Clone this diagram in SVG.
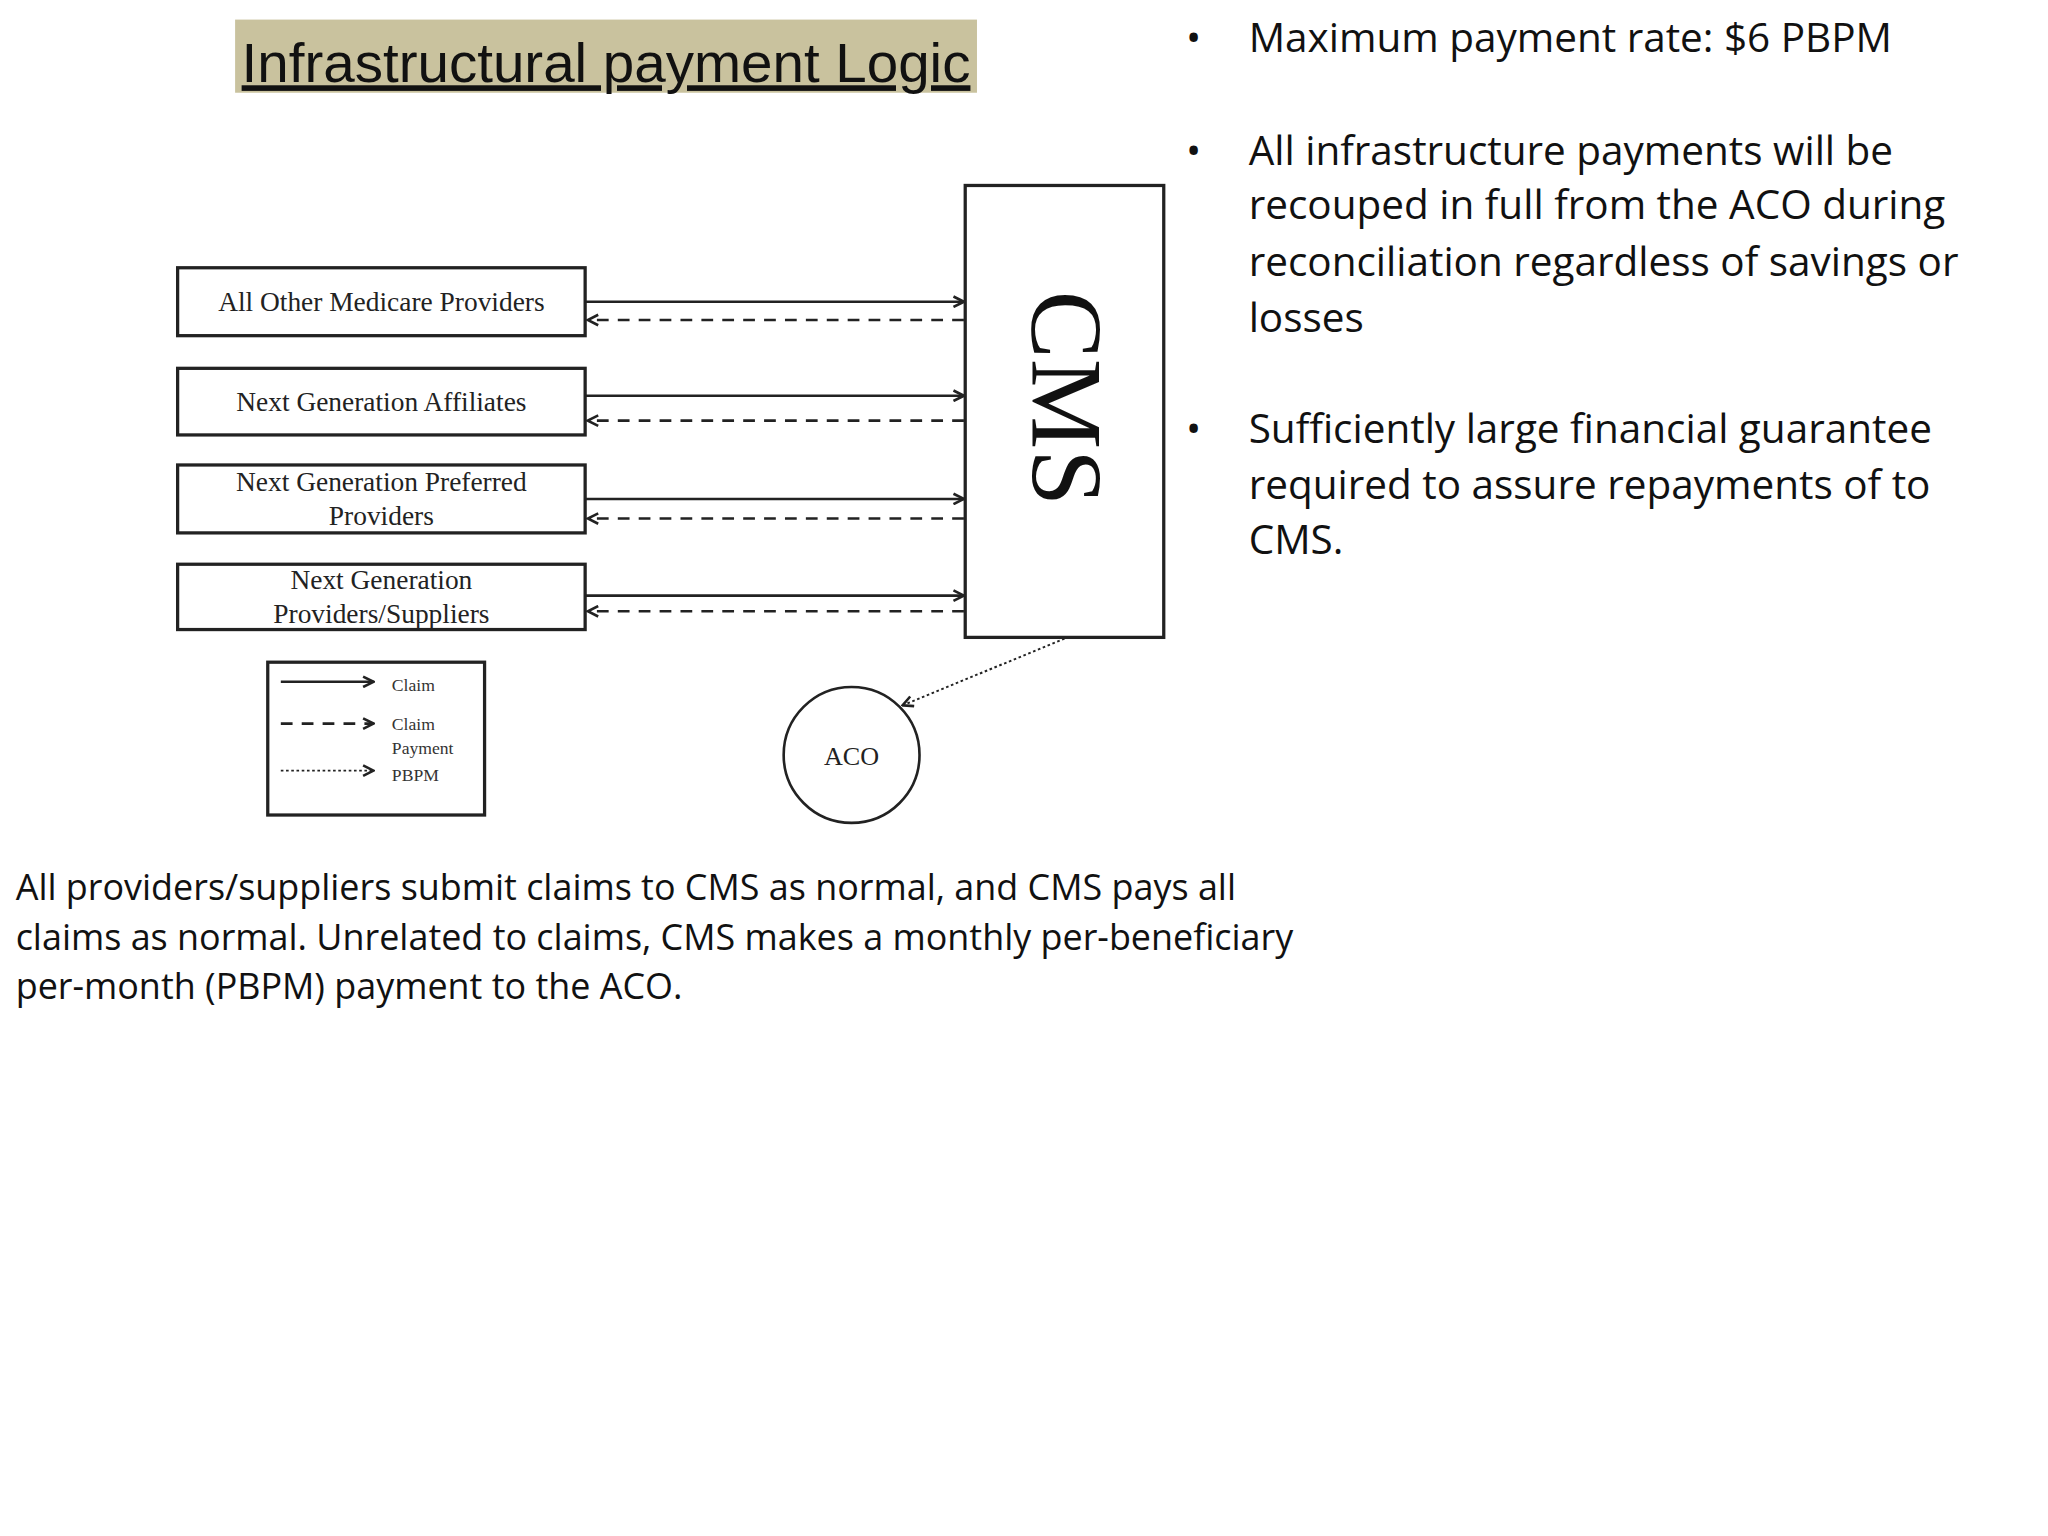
<svg xmlns="http://www.w3.org/2000/svg" width="2048" height="1536" viewBox="0 0 2048 1536">
<style>
.box{fill:#fff;stroke:#222;stroke-width:2.5}
.st{font-family:"Liberation Serif",serif;font-size:21px;fill:#222;text-anchor:middle}
.sl{stroke:#222;stroke-width:2;fill:none}
.ds{stroke-dasharray:9,7}
.dt{stroke-dasharray:2,2;stroke-width:1.5}
.lg{font-family:"Liberation Serif",serif;font-size:13.5px;fill:#333}
.bl{font-family:"Open Sans",sans-serif;font-size:31px;fill:#111}
.bt{font-family:"Open Sans",sans-serif;font-size:27.5px;fill:#111}
</style>
<defs>
<marker id="ah" viewBox="0 0 10 10" refX="9" refY="5" markerWidth="10" markerHeight="10" orient="auto-start-reverse" markerUnits="userSpaceOnUse"><path d="M1,1 L9,5 L1,9" fill="none" stroke="#222" stroke-width="2"/></marker>
</defs>
<rect width="2048" height="1536" fill="#fff"/>
<g transform="scale(1.30612)">
<g id="title"><rect x="180" y="15" width="568" height="56" fill="#c9c29e"/>
<text x="185" y="63" font-family="Liberation Sans,sans-serif" font-size="43" fill="#111" text-decoration="underline" textLength="558" lengthAdjust="spacingAndGlyphs">Infrastructural payment Logic</text></g>
<g id="n1"><rect class="box" x="136" y="205" width="312" height="52"/><text class="st" x="292" y="238">All Other Medicare Providers</text></g>
<g id="n2"><rect class="box" x="136" y="282" width="312" height="51"/><text class="st" x="292" y="315">Next Generation Affiliates</text></g>
<g id="n3"><rect class="box" x="136" y="356" width="312" height="52"/><text class="st" x="292" y="376">Next Generation Preferred</text><text class="st" x="292" y="402">Providers</text></g>
<g id="n4"><rect class="box" x="136" y="432" width="312" height="50"/><text class="st" x="292" y="451">Next Generation</text><text class="st" x="292" y="477">Providers/Suppliers</text></g>
<g id="cms"><rect class="box" x="739" y="142" width="152" height="346"/><text transform="translate(790,305) rotate(90)" font-family="Liberation Serif,serif" font-size="78" fill="#111" text-anchor="middle">CMS</text></g>
<g id="aco"><circle cx="652" cy="578" r="52" fill="#fff" stroke="#222" stroke-width="2"/><text x="652" y="586" font-family="Liberation Serif,serif" font-size="20" fill="#222" text-anchor="middle">ACO</text></g>
<g id="connectors">
<line class="sl" x1="448" y1="231" x2="738" y2="231" marker-end="url(#ah)"/>
<line class="sl ds" x1="738" y1="245" x2="450" y2="245" marker-end="url(#ah)"/>
<line class="sl" x1="448" y1="303" x2="738" y2="303" marker-end="url(#ah)"/>
<line class="sl ds" x1="738" y1="322" x2="450" y2="322" marker-end="url(#ah)"/>
<line class="sl" x1="448" y1="382" x2="738" y2="382" marker-end="url(#ah)"/>
<line class="sl ds" x1="738" y1="397" x2="450" y2="397" marker-end="url(#ah)"/>
<line class="sl" x1="448" y1="456" x2="738" y2="456" marker-end="url(#ah)"/>
<line class="sl ds" x1="738" y1="468" x2="450" y2="468" marker-end="url(#ah)"/>
<line class="sl dt" x1="815" y1="489" x2="691" y2="540" marker-end="url(#ah)"/>
</g>
<g id="legend"><rect class="box" x="205" y="507" width="166" height="117" stroke-width="2"/>
<line class="sl" x1="215" y1="522" x2="286" y2="522" marker-end="url(#ah)"/>
<line class="sl ds" x1="215" y1="554" x2="286" y2="554" marker-end="url(#ah)"/>
<line class="sl dt" x1="215" y1="590" x2="286" y2="590" marker-end="url(#ah)"/>
<text class="lg" x="300" y="529">Claim</text><text class="lg" x="300" y="559">Claim</text><text class="lg" x="300" y="577">Payment</text><text class="lg" x="300" y="598">PBPM</text></g>
<g id="bullets" class="bl">
<text x="908" y="40">•</text><text x="956" y="40">Maximum payment rate: $6 PBPM</text>
<text x="908" y="126">•</text><text x="956" y="126">All infrastructure payments will be</text>
<text x="956" y="168">recouped in full from the ACO during</text>
<text x="956" y="211">reconciliation regardless of savings or</text>
<text x="956" y="254">losses</text>
<text x="908" y="339">•</text><text x="956" y="339">Sufficiently large financial guarantee</text>
<text x="956" y="382">required to assure repayments of to</text>
<text x="956" y="424">CMS.</text></g>
<g id="caption" class="bt">
<text x="12" y="689">All providers/suppliers submit claims to CMS as normal, and CMS pays all</text>
<text x="12" y="727">claims as normal. Unrelated to claims, CMS makes a monthly per-beneficiary</text>
<text x="12" y="765">per-month (PBPM) payment to the ACO.</text></g>
</g>
</svg>
